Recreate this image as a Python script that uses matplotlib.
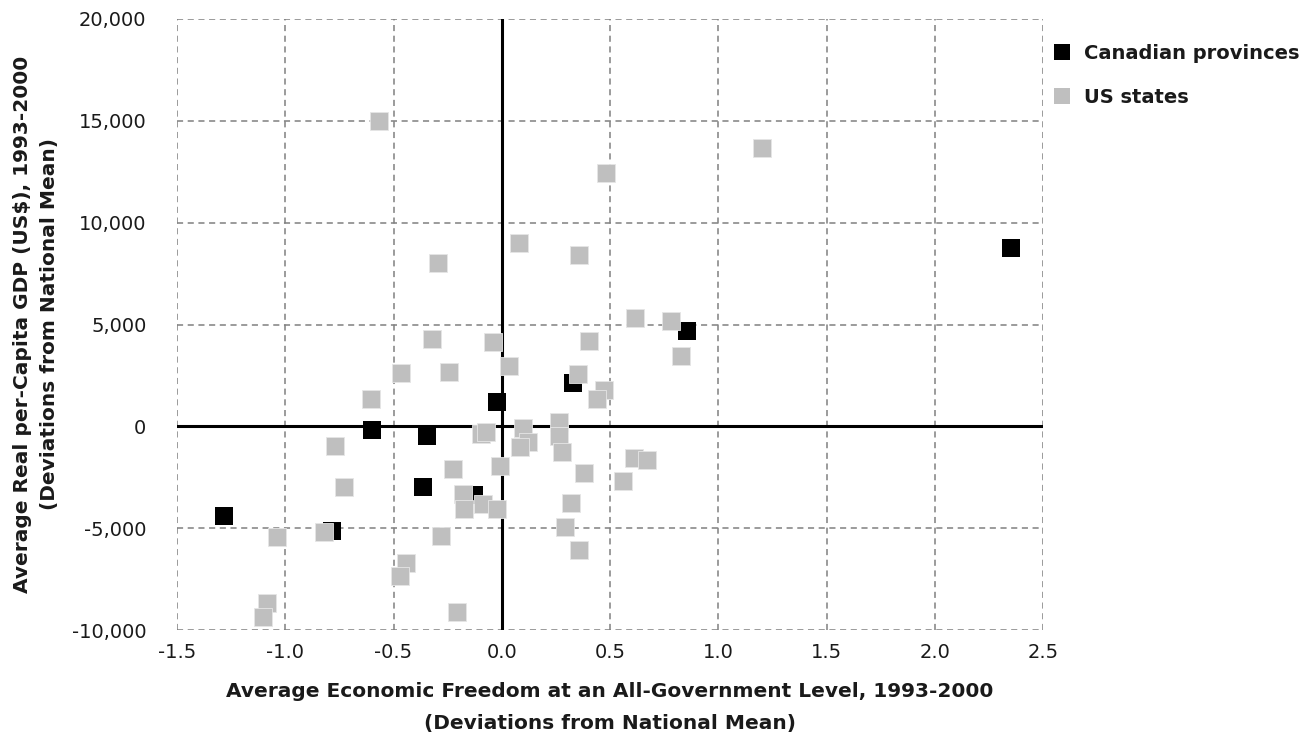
import matplotlib
matplotlib.use("Agg")
import matplotlib.pyplot as plt
from matplotlib.lines import Line2D

plt.rcParams['font.family'] = ['DejaVu Sans']
plt.rcParams['axes.unicode_minus'] = False

# Canadian provinces: (economic freedom deviation, GDP per capita deviation)
can_x = [2.35, 0.854, 0.33, -0.02, -0.597, -0.345, -0.365, -0.13, -1.283, -0.782]
can_y = [8740, 4657, 2120, 1190, -160, -475, -3000, -3350, -4400, -5115]

# US states
us_x = [-0.323, -0.042, -0.465, -0.242, -0.605, -0.095, -0.075, -0.771, -0.226, -0.008,
        -0.729, -0.177, -0.173, -0.085, -0.023, -1.038, -0.821, -0.282, -0.443, -0.471,
        -1.083, -1.103, -0.206, 0.034, 0.404, 0.617, 0.780, 0.829, 0.351, 0.472,
        0.438, 0.097, 0.123, 0.084, 0.263, 0.263, 0.277, 0.380, 0.611, 0.672,
        0.558, 0.321, 0.294, 0.358, -0.565, -0.293, 0.081, 0.358, 0.481, 1.204]
us_y = [4300, 4118, 2613, 2647, 1324, -400, -280, -946, -2091, -1944,
        -2974, -3300, -4035, -3790, -4070, -5457, -5196, -5377, -6732, -7353,
        -8693, -9346, -9100, 2974, 4183, 5310, 5196, 3431, 2582, 1797,
        1324, -90, -768, -1000, 220, -490, -1250, -2288, -1552, -1667,
        -2680, -3758, -4967, -6078, 15000, 8025, 9005, 8417, 12417, 13690]

xticks = [-1.5, -1.0, -0.5, 0.0, 0.5, 1.0, 1.5, 2.0, 2.5]
xtick_labels = ['-1.5', '-1.0', '-0.5', '0.0', '0.5', '1.0', '1.5', '2.0', '2.5']
yticks = [-10000, -5000, 0, 5000, 10000, 15000, 20000]
ytick_labels = ['-10,000', '-5,000', '0', '5,000', '10,000', '15,000', '20,000']

series_names = ['Canadian provinces', 'US states']
colors = ['#000000', '#bfbfbf']
text_color = '#1a1a1a'

fig = plt.figure(figsize=(13.1, 7.42), dpi=100)
ax = fig.add_axes([177/1310, 1-630/742, (1043-177)/1310, (630-19)/742])

ax.set_xlim(-1.5, 2.5)
ax.set_ylim(-10000, 20000)
ax.set_xticks(xticks)
ax.set_xticklabels(xtick_labels)
ax.set_yticks(yticks)
ax.set_yticklabels(ytick_labels)
ax.tick_params(length=0, labelsize=14, colors=text_color)
ax.tick_params(axis='x', pad=9)
ax.tick_params(axis='y', pad=22)
for s in ax.spines.values():
    s.set_visible(False)

ax.set_axisbelow(True)
ax.grid(True, color='#808080', linestyle=(0, (4, 3)), linewidth=1.1)
ax.axhline(0, color='black', linewidth=2.2, zorder=2)
ax.axvline(0, color='black', linewidth=2.2, zorder=2)

ax.scatter(can_x, can_y, marker='s', s=13**2, color=colors[0], linewidths=0, zorder=3)
ax.scatter(us_x, us_y, marker='s', s=13**2, color=colors[1], edgecolors='#e6e6e6',
           linewidths=0.6, zorder=4)

ax.set_xlabel('Average Economic Freedom at an All-Government Level, 1993-2000\n(Deviations from National Mean)',
              fontsize=14.5, fontweight='bold', color=text_color, labelpad=14.5, linespacing=1.88)
ax.set_ylabel('Average Real per-Capita GDP (US$), 1993-2000\n(Deviations from National Mean)',
              fontsize=14.5, fontweight='bold', color=text_color, labelpad=9, linespacing=1.55)

handles = [Line2D([], [], marker='s', linestyle='none', markersize=11, color=c, markeredgewidth=0)
           for c in colors]
ax.legend(handles, series_names, loc='upper left', bbox_to_anchor=(1.0, 0.972), frameon=False,
          prop={'weight': 'bold', 'size': 14}, handletextpad=0.6, labelspacing=1.27,
          handlelength=1.13, borderaxespad=0.0, labelcolor=text_color)

fig.savefig('out.png', dpi=100)
